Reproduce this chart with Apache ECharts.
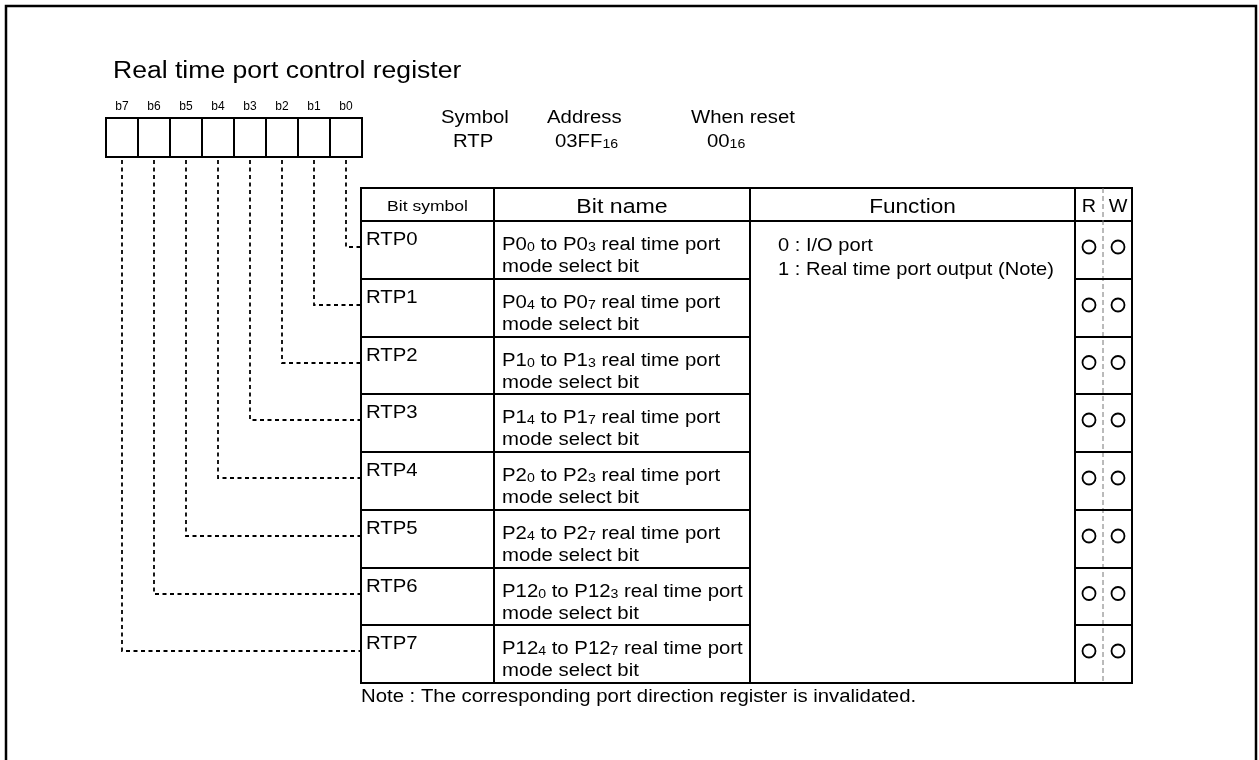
<!DOCTYPE html>
<html><head><meta charset="utf-8">
<script src="https://cdn.jsdelivr.net/npm/echarts@6/dist/echarts.min.js"></script>
<style>html,body{margin:0;padding:0;background:#fff}#c{width:1259px;height:760px}</style>
</head><body><div id="c"></div>
<script>
// ---- data ----
const titleText = 'Real time port control register';
const bitLabels = ['b7', 'b6', 'b5', 'b4', 'b3', 'b2', 'b1', 'b0'];
const infoHeads = ['Symbol', 'Address', 'When reset'];
const infoMain = ['RTP', '03FF', '00'];
const infoSub = ['', '16', '16'];
const headerLabels = ['Bit symbol', 'Bit name', 'Function', 'R', 'W'];
const bitSymbols = ['RTP0', 'RTP1', 'RTP2', 'RTP3', 'RTP4', 'RTP5', 'RTP6', 'RTP7'];
const portPrefixes = ['P0', 'P0', 'P1', 'P1', 'P2', 'P2', 'P12', 'P12'];
const portFirstBits = ['0', '4', '0', '4', '0', '4', '0', '4'];
const portLastBits = ['3', '7', '3', '7', '3', '7', '3', '7'];
const nameTail = ' real time port';
const nameLine2 = 'mode select bit';
const functionLines = ['0 : I/O port', '1 : Real time port output (Note)'];
const readFlags = ['O', 'O', 'O', 'O', 'O', 'O', 'O', 'O'];
const writeFlags = ['O', 'O', 'O', 'O', 'O', 'O', 'O', 'O'];
const noteText = 'Note : The corresponding port direction register is invalidated.';

// ---- layout ----
const FONT = '"Liberation Sans", Arial, Helvetica, sans-serif';
const SX = 1.13;
const BOX_X = 106, BOX_Y = 118, BOX_W = 32, BOX_H = 39;
const T_L = 361, C1 = 494, C2 = 750, C3 = 1075, C_RW = 1103, T_R = 1132;
const T_TOP = 188, H_BOT = 221, RH = 57.75;
const T_BOT = Math.round(H_BOT + RH * bitSymbols.length);
const R_X = 1089, W_X = 1118;

function txt(x, y, text, size, extra) {
  return {
    type: 'text', x: x, y: y, scaleX: SX, silent: true,
    style: Object.assign({
      text: text, fontFamily: FONT, fontSize: size, fill: '#000',
      align: 'left', verticalAlign: 'middle'
    }, extra || {})
  };
}
function line(x1, y1, x2, y2, w, dash) {
  return {
    type: 'line', silent: true,
    shape: { x1: x1, y1: y1, x2: x2, y2: y2 },
    style: { stroke: '#000', lineWidth: w, lineDash: dash || null }
  };
}
function subRich(size, subSize) {
  return {
    n: { fontFamily: FONT, fontSize: size, lineHeight: size + 2, verticalAlign: 'bottom', fill: '#000' },
    s: { fontFamily: FONT, fontSize: subSize, lineHeight: subSize + 2, verticalAlign: 'bottom', fill: '#000' }
  };
}

const chart = echarts.init(document.getElementById('c'), null, { renderer: 'canvas' });

function renderBit(params, api) {
  const i = params.dataIndex;
  const p = api.coord([BOX_X + i * BOX_W, BOX_Y]);
  const cx = p[0] + BOX_W / 2;
  return {
    type: 'group',
    children: [
      { type: 'rect', shape: { x: p[0], y: p[1], width: BOX_W, height: BOX_H },
        style: { fill: '#fff', stroke: '#000', lineWidth: 2 } },
      { type: 'text', x: cx, y: p[1] - 11, silent: true,
        style: { text: bitLabels[i], fontFamily: FONT, fontSize: 12, fill: '#000', align: 'center', verticalAlign: 'middle' } }
    ]
  };
}

function renderRow(params, api) {
  const i = params.dataIndex;
  const top = Math.round(api.coord([0, H_BOT + i * RH])[1]);
  const bot = Math.round(api.coord([0, H_BOT + (i + 1) * RH])[1]);
  const mid = (top + bot) / 2;
  const bitIdx = bitLabels.length - 1 - i;
  const cx = BOX_X + bitIdx * BOX_W + BOX_W / 2;
  const cy = top + 26;
  const children = [
    line(T_L, bot, C2, bot, 2),
    line(C3, bot, T_R, bot, 2),
    { type: 'polyline', silent: true,
      shape: { points: [[cx, BOX_Y + BOX_H + 3], [cx, cy], [T_L, cy]] },
      style: { stroke: '#000', fill: null, lineWidth: 1.8, lineDash: [4, 3.5] } },
    txt(T_L + 5, top + 19, bitSymbols[i], 18),
    { type: 'text', x: C1 + 8, y: top + 23, scaleX: SX, silent: true,
      style: {
        text: '{n|' + portPrefixes[i] + '}{s|' + portFirstBits[i] + '}{n| to ' + portPrefixes[i] + '}{s|' + portLastBits[i] + '}{n|' + nameTail + '}',
        rich: subRich(18, 12.5), align: 'left', verticalAlign: 'middle'
      } },
    txt(C1 + 8, top + 46, nameLine2, 18)
  ];
  if (readFlags[i] === 'O') children.push({ type: 'circle', shape: { cx: R_X, cy: mid - 3, r: 6.5 }, style: { fill: null, stroke: '#000', lineWidth: 1.8 } });
  if (writeFlags[i] === 'O') children.push({ type: 'circle', shape: { cx: W_X, cy: mid - 3, r: 6.5 }, style: { fill: null, stroke: '#000', lineWidth: 1.8 } });
  return { type: 'group', children: children };
}

const infoX = [441, 547, 691];
const infoValX = [453, 555, 707];
const graphics = [
  { type: 'rect', shape: { x: 6, y: 6, width: 1250, height: 800 }, style: { fill: null, stroke: '#000', lineWidth: 2.5 }, silent: true },
  txt(113, 72, titleText, 23.5)
];
infoHeads.forEach(function (h, k) {
  graphics.push(txt(infoX[k], 118, h, 18));
  graphics.push({ type: 'text', x: infoValX[k], y: 141, scaleX: SX, silent: true,
    style: { text: '{n|' + infoMain[k] + '}' + (infoSub[k] ? '{s|' + infoSub[k] + '}' : ''), rich: subRich(18, 12.5), align: 'left', verticalAlign: 'middle' } });
});
// table skeleton
graphics.push({ type: 'rect', shape: { x: T_L, y: T_TOP, width: T_R - T_L, height: T_BOT - T_TOP }, style: { fill: null, stroke: '#000', lineWidth: 2 }, silent: true });
graphics.push(line(T_L, H_BOT, T_R, H_BOT, 2));
[C1, C2, C3].forEach(function (x) { graphics.push(line(x, T_TOP, x, T_BOT, 2)); });
graphics.push({ type: 'line', silent: true, shape: { x1: C_RW, y1: T_TOP, x2: C_RW, y2: T_BOT }, style: { stroke: '#777', lineWidth: 1, lineDash: [5, 3] } });
// headers
const headerCX = [(T_L + C1) / 2, (C1 + C2) / 2, (C2 + C3) / 2, R_X, W_X];
const headerSize = [15.5, 20.5, 20, 17.5, 17.5];
headerLabels.forEach(function (h, k) {
  graphics.push({ type: 'text', x: headerCX[k], y: 207, scaleX: SX, silent: true,
    style: { text: h, fontFamily: FONT, fontSize: headerSize[k], fill: '#000', align: 'center', verticalAlign: 'middle' } });
});
functionLines.forEach(function (f, k) { graphics.push(txt(778, 246 + k * 24, f, 17.8)); });
graphics.push(txt(361, 697, noteText, 18));

chart.setOption({
  animation: false,
  backgroundColor: '#fff',
  grid: { left: 0, right: 0, top: 0, bottom: 0 },
  xAxis: { type: 'value', min: 0, max: 1259, show: false },
  yAxis: { type: 'value', min: 0, max: 760, inverse: true, show: false },
  graphic: graphics,
  series: [
    { type: 'custom', name: 'rows', renderItem: renderRow, data: bitSymbols.map(function (s, i) { return [i, i]; }), silent: true, z: 3 },
    { type: 'custom', name: 'bits', renderItem: renderBit, data: bitLabels.map(function (b, i) { return [i, i]; }), silent: true, z: 4 }
  ]
});
</script>
</body></html>
